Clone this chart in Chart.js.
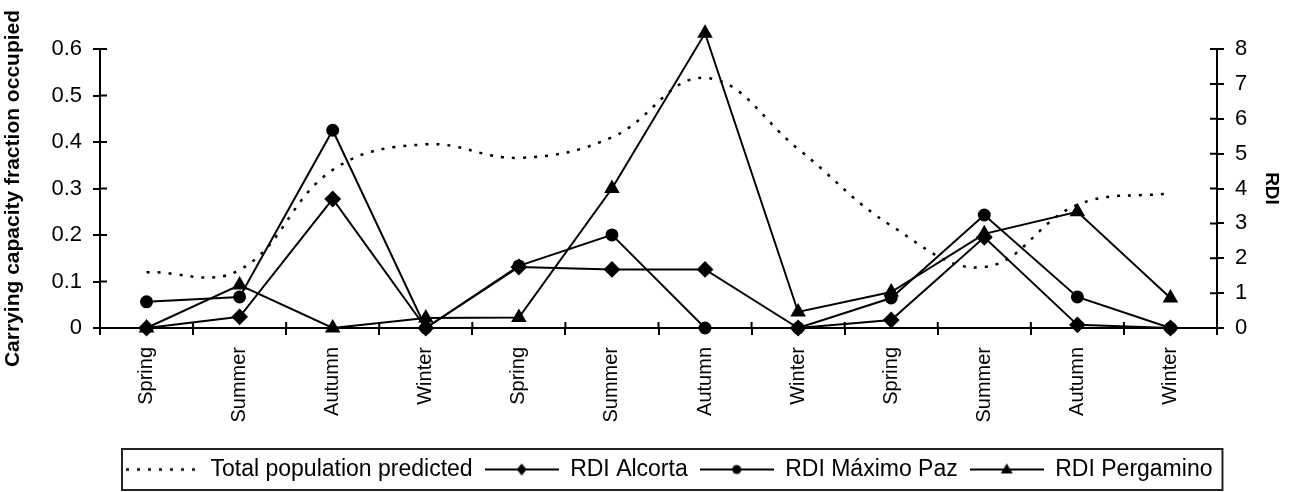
<!DOCTYPE html>
<html>
<head>
<meta charset="utf-8">
<script src="https://cdn.jsdelivr.net/npm/chart.js@4.4.1/dist/chart.umd.min.js"></script>
<style>
  html, body { margin: 0; padding: 0; background: #fff; }
  #wrap { width: 1291px; height: 492px; }
</style>
</head>
<body>
<div id="wrap"><canvas id="chart"></canvas></div>
<script>
// data
const seasons = ["Spring", "Summer", "Autumn", "Winter", "Spring", "Summer", "Autumn", "Winter", "Spring", "Summer", "Autumn", "Winter"];
const totalPredicted = [0.12, 0.125, 0.34, 0.395, 0.366, 0.41, 0.538, 0.385, 0.22, 0.131, 0.265, 0.29];
const rdiAlcorta   = [0, 0.32, 3.7, 0, 1.75, 1.68, 1.68, 0, 0.23, 2.6, 0.09, 0];
const rdiMaximoPaz = [0.75, 0.89, 5.67, 0, 1.78, 2.67, 0, 0, 0.86, 3.24, 0.89, 0];
const rdiPergamino = [0, 1.23, 0, 0.29, 0.3, 4.0, 8.45, 0.46, 1.03, 2.7, 3.33, 0.86];
const leftTicks = [0, 0.1, 0.2, 0.3, 0.4, 0.5, 0.6];
const rightTicks = [0, 1, 2, 3, 4, 5, 6, 7, 8];

// layout
const LEGEND_X0 = 125;
const LEGEND_MID = 469.5;
const LEGEND_PAD = 12;
const LEGEND_FONT = 23;
const SAMPLE_W = 74;

Chart.defaults.font.family = "'Liberation Sans', Arial, sans-serif";
Chart.defaults.color = "#000";

// legend samples: line + marker
function marker(ctx, kind, x, y) {
    ctx.beginPath();
    if (kind === "diamond") {
        ctx.moveTo(x, y - 6); ctx.lineTo(x + 5, y); ctx.lineTo(x, y + 6); ctx.lineTo(x - 5, y);
    } else if (kind === "circle") {
        ctx.arc(x, y, 4.5, 0, Math.PI * 2);
    } else if (kind === "triangle") {
        ctx.moveTo(x, y - 6); ctx.lineTo(x + 6, y + 4); ctx.lineTo(x - 6, y + 4);
    }
    ctx.closePath();
    ctx.fill();
}
function sample(kind) {
    const c = document.createElement("canvas");
    c.width = SAMPLE_W; c.height = 20;
    const ctx = c.getContext("2d");
    ctx.strokeStyle = "#000"; ctx.fillStyle = "#000";
    ctx.beginPath();
    if (kind === "dotted") {
        ctx.setLineDash([3, 8]);
        ctx.lineWidth = 2.5;
        ctx.moveTo(1, 10);
    } else {
        ctx.lineWidth = 2;
        ctx.moveTo(0, 10);
    }
    ctx.lineTo(SAMPLE_W, 10);
    ctx.stroke();
    if (kind !== "dotted") marker(ctx, kind, SAMPLE_W / 2, 10);
    return c;
}
const samples = [sample("dotted"), sample("diamond"), sample("circle"), sample("triangle")];

const axisMarks = {
    id: "axisMarks",
    afterLayout(chart) {
        const lg = chart.legend;
        const lw = lg.lineWidths[0];
        const start = (lg.left + LEGEND_PAD + lg.right - lw) / 2;
        const dx = LEGEND_X0 - start;
        lg.left += dx; lg.right += dx;
        const dy = LEGEND_MID - (lg.top + LEGEND_PAD + LEGEND_FONT / 2);
        lg.top += dy; lg.bottom += dy;
        chart.$legendFrame = { x0: LEGEND_X0 - 3, x1: LEGEND_X0 + lw - LEGEND_PAD + 10 };
    },
    afterDatasetsDraw(chart) {
        // points above the top of the axes (Pergamino peak) are skipped by the
        // library's area test, so draw them again without an area
        const a = chart.chartArea;
        chart.data.datasets.forEach((ds, i) => {
            chart.getDatasetMeta(i).data.forEach(el => {
                if (el.y < a.top - 2) el.draw(chart.ctx);
            });
        });
    },
    afterDraw(chart) {
        const ctx = chart.ctx;
        const a = chart.chartArea;
        const sx = chart.scales.x, sy = chart.scales.y, sy1 = chart.scales.y1;
        ctx.save();
        ctx.strokeStyle = "#000";
        ctx.lineWidth = 2;
        ctx.beginPath();
        leftTicks.forEach(v => { const p = sy.getPixelForValue(v); ctx.moveTo(a.left, p); ctx.lineTo(a.left + 7, p); });
        rightTicks.forEach(v => { const p = sy1.getPixelForValue(v); ctx.moveTo(a.right, p); ctx.lineTo(a.right - 7, p); });
        for (let i = 1; i < seasons.length; i++) {
            const p = sx.getPixelForValue(i - 0.5);
            ctx.moveTo(p, a.bottom); ctx.lineTo(p, a.bottom - 6);
        }
        ctx.stroke();
        // legend frame
        const f = chart.$legendFrame;
        ctx.strokeStyle = "#222";
        ctx.lineWidth = 2;
        ctx.strokeRect(f.x0, LEGEND_MID - 20.5, f.x1 - f.x0, 41);
        ctx.restore();
    }
};

new Chart(document.getElementById("chart"), {
    type: "line",
    data: {
        labels: seasons,
        datasets: [
            {
                label: "Total population predicted",
                data: totalPredicted,
                yAxisID: "y",
                borderColor: "#000",
                borderWidth: 2.5,
                borderDash: [3, 8],
                tension: 0.4,
                pointRadius: 0,
                fill: false
            },
            {
                label: "RDI Alcorta",
                data: rdiAlcorta,
                yAxisID: "y1",
                borderColor: "#000",
                backgroundColor: "#000",
                borderWidth: 2,
                pointStyle: "rectRot",
                pointRadius: 7,
                tension: 0,
                clip: false
            },
            {
                label: "RDI Máximo Paz",
                data: rdiMaximoPaz,
                yAxisID: "y1",
                borderColor: "#000",
                backgroundColor: "#000",
                borderWidth: 2,
                pointStyle: "circle",
                pointRadius: 5.5,
                tension: 0,
                clip: false
            },
            {
                label: "RDI Pergamino",
                data: rdiPergamino,
                yAxisID: "y1",
                borderColor: "#000",
                backgroundColor: "#000",
                borderWidth: 2,
                pointStyle: "triangle",
                pointRadius: 7,
                tension: 0,
                clip: false
            }
        ]
    },
    options: {
        responsive: true,
        maintainAspectRatio: false,
        animation: false,
        layout: { padding: { top: 49, left: 0, right: 0, bottom: 0 } },
        plugins: {
            tooltip: { enabled: false },
            legend: {
                position: "bottom",
                labels: {
                    color: "#000",
                    font: { size: LEGEND_FONT },
                    padding: LEGEND_PAD,
                    usePointStyle: true,
                    pointStyleWidth: SAMPLE_W,
                    generateLabels(chart) {
                        const items = Chart.defaults.plugins.legend.labels.generateLabels(chart);
                        items.forEach((it, i) => { it.pointStyle = samples[i]; });
                        return items;
                    }
                }
            }
        },
        scales: {
            x: {
                offset: true,
                afterFit(s) { s.height = 119; },
                grid: { offset: true, drawOnChartArea: false, color: "#000", lineWidth: 2, tickLength: 7 },
                border: { color: "#000", width: 2 },
                ticks: { autoSkip: false, minRotation: 90, maxRotation: 90, padding: 12, font: { size: 20 } }
            },
            y: {
                position: "left",
                min: 0, max: 0.6,
                afterFit(s) { s.width = 100; },
                afterBuildTicks(s) { s.ticks = leftTicks.map(v => ({ value: v })); },
                grid: { drawOnChartArea: false, color: "#000", lineWidth: 2, tickLength: 7 },
                border: { color: "#000", width: 2 },
                ticks: { padding: 11, font: { size: 22 }, callback: v => String(v) },
                title: {
                    display: true,
                    text: "Carrying capacity fraction occupied",
                    font: { size: 21, weight: "bold" },
                    padding: { top: 1, bottom: 0 }
                }
            },
            y1: {
                position: "right",
                min: 0, max: 8,
                afterFit(s) { s.width = 74; },
                afterBuildTicks(s) { s.ticks = rightTicks.map(v => ({ value: v })); },
                grid: { drawOnChartArea: false, color: "#000", lineWidth: 2, tickLength: 7 },
                border: { color: "#000", width: 2 },
                ticks: { padding: 11, font: { size: 22 } },
                title: {
                    display: true,
                    text: "RDI",
                    font: { size: 19, weight: "bold" },
                    padding: { top: 8, bottom: 0 }
                }
            }
        }
    },
    plugins: [axisMarks]
});
</script>
</body>
</html>
